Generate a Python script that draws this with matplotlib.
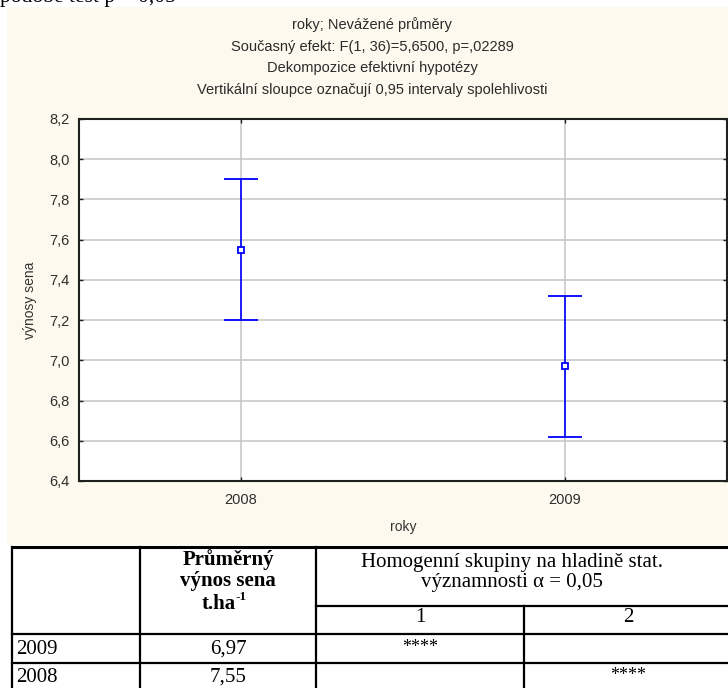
import numpy as np
import matplotlib
matplotlib.use('Agg')
import matplotlib.pyplot as plt
from matplotlib.patches import Rectangle

# chart data
years = ['2008', '2009']
means = [7.55, 6.97]
ci_low = [7.20, 6.62]
ci_high = [7.90, 7.32]
yticks = [6.4, 6.6, 6.8, 7.0, 7.2, 7.4, 7.6, 7.8, 8.0, 8.2]

title_lines = ['roky; Nevážené průměry',
               'Současný efekt: F(1, 36)=5,6500, p=,02289',
               'Dekompozice efektivní hypotézy',
               'Vertikální sloupce označují 0,95 intervaly spolehlivosti']

# table data
tab_years = ['2009', '2008']
tab_means = ['6,97', '7,55']
group1 = ['****', '']
group2 = ['', '****']
group_names = ['1', '2']

sans = 'Liberation Sans'
serif = 'Liberation Serif'

fig = plt.figure(figsize=(7.28, 6.88), dpi=100)

# background layer in pixel coordinates
bg = fig.add_axes([0, 0, 1, 1], zorder=0)
bg.set_xlim(0, 728)
bg.set_ylim(688, 0)
bg.axis('off')
bg.add_patch(Rectangle((7, 7), 721, 538, facecolor='#fdf9ee', edgecolor='none'))

# cut line of text from the page above
bg.text(0, 2, 'podobě test p = 0,05', family=serif, fontsize=15.5,
        color='black', va='baseline', ha='left')

for i, line in enumerate(title_lines):
    bg.text(372, 25 + 21.7 * i, line, ha='center', va='center',
            fontsize=10.5, family=sans, color='#2b2b2b')

# chart
ax = fig.add_axes([79 / 728, (688 - 481) / 688, (727 - 79) / 728, (481 - 119) / 688], zorder=2)
ax.set_facecolor('white')
x = np.arange(len(years))
m = np.array(means)
err = [m - np.array(ci_low), np.array(ci_high) - m]
ax.errorbar(x, m, yerr=err, fmt='s', color='#0000ff', mfc='white', mec='#0000ff',
            ms=5, mew=1.3, elinewidth=1.2, capsize=12, capthick=1.2, zorder=3)
ax.set_xlim(-0.5, 1.5)
ax.set_ylim(6.4, 8.2)
ax.set_yticks(yticks)
ax.set_yticklabels([('%.1f' % t).replace('.', ',') for t in yticks])
ax.set_xticks(x)
ax.set_xticklabels(years)
ax.grid(True, color='#c8c8c8', lw=1.2)
ax.set_axisbelow(True)
ax.tick_params(direction='in', length=3, width=1, top=True, right=True,
               color='#202020', labelcolor='#2e2e2e', labelsize=10.5)
ax.tick_params(axis='y', pad=7)
ax.tick_params(axis='x', pad=9)
for lab in ax.get_xticklabels() + ax.get_yticklabels():
    lab.set_family(sans)
for s in ax.spines.values():
    s.set_color('#202020')
    s.set_linewidth(1.5)

ax.set_ylabel('výnosy sena', family=sans, fontsize=10, color='#333333')
ax.yaxis.set_label_coords((30 - 79) / 648, 0.5)
ax.yaxis.label.set_va('center')
ax.set_xlabel('roky', family=sans, fontsize=10, color='#333333')
ax.xaxis.set_label_coords(0.5, (481 - 527) / 362)
ax.xaxis.label.set_va('center')

# table below chart
cols = [12, 140, 316, 524, 732]
lw = 1.6
bg.plot([cols[0], cols[-1]], [547, 547], color='black', lw=2.2)
bg.plot([cols[2], cols[-1]], [606, 606], color='black', lw=lw)
for yy in [634, 663, 692]:
    bg.plot([cols[0], cols[-1]], [yy, yy], color='black', lw=lw)
for xx in cols[:3]:
    bg.plot([xx, xx], [547, 692], color='black', lw=lw)
for xx in cols[3:]:
    bg.plot([xx, xx], [606, 692], color='black', lw=lw)

fs = 15
c2 = (cols[1] + cols[2]) / 2
bg.text(c2, 560, 'Průměrný', ha='center', va='center', family=serif, fontsize=fs, weight='bold')
bg.text(c2, 581, 'výnos sena', ha='center', va='center', family=serif, fontsize=fs, weight='bold')
bg.text(c2 + 8, 604, 't.ha', ha='right', va='center', family=serif, fontsize=fs, weight='bold')
bg.text(c2 + 8, 597, '-1', ha='left', va='center', family=serif, fontsize=9.5, weight='bold')

c34 = (cols[2] + cols[4]) / 2
bg.text(c34 - 12, 562, 'Homogenní skupiny na hladině stat.', ha='center', va='center',
        family=serif, fontsize=fs)
bg.text(c34 - 12, 583, 'významnosti α = 0,05', ha='center', va='center',
        family=serif, fontsize=fs)
for j, g in enumerate(group_names):
    bg.text((cols[2 + j] + cols[3 + j]) / 2, 617, g, ha='center', va='center',
            family=serif, fontsize=fs)

row_y = [649, 677]
for i in range(len(tab_years)):
    bg.text(cols[0] + 4, row_y[i], tab_years[i], ha='left', va='center', family=serif, fontsize=fs)
    bg.text(c2, row_y[i], tab_means[i], ha='center', va='center', family=serif, fontsize=fs)
    bg.text((cols[2] + cols[3]) / 2, row_y[i] - 1, group1[i], ha='center', va='center',
            family=serif, fontsize=13)
    bg.text((cols[3] + cols[4]) / 2, row_y[i] - 1, group2[i], ha='center', va='center',
            family=serif, fontsize=13)

fig.savefig('out.png', dpi=100)
